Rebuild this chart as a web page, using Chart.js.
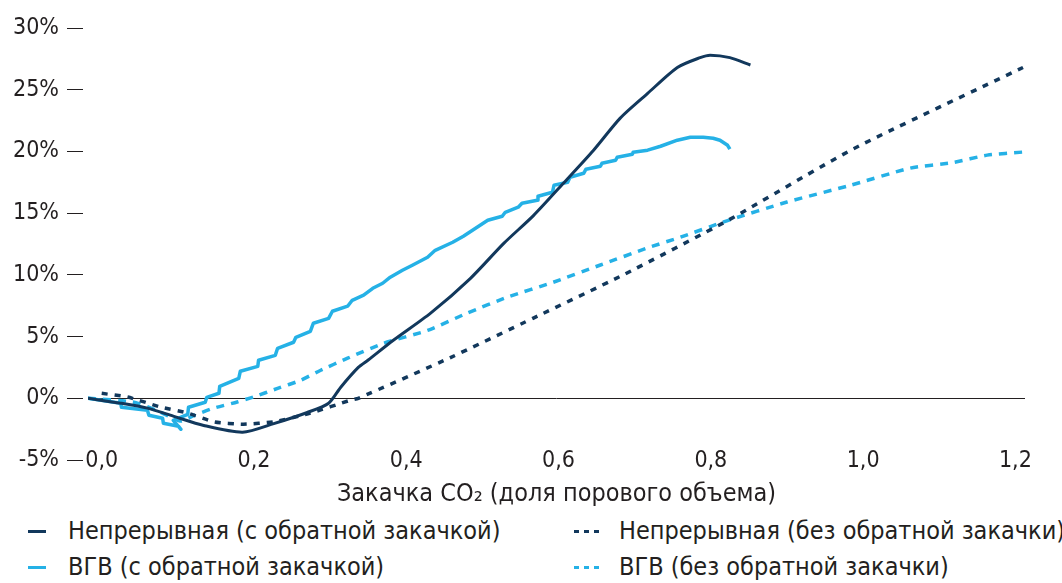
<!DOCTYPE html>
<html lang="ru">
<head>
<meta charset="utf-8">
<title>Закачка CO2</title>
<script src="https://cdn.jsdelivr.net/npm/chart.js@4.4.1/dist/chart.umd.min.js"></script>
<style>
  html, body { margin: 0; padding: 0; background: #fff; }
  body { width: 1062px; height: 583px; overflow: hidden; color: #231f20;
         font-family: 'DejaVu Sans Condensed', 'DejaVu Sans', sans-serif; }
  .wrap { position: relative; width: 1062px; height: 515px; }
  #legend { position: absolute; left: 0; top: 515px; width: 1062px; height: 68px; }
  #legend .mark { position: absolute; height: 3px; }
  #legend .txt { position: absolute; font-size: 25px; line-height: 28px; white-space: nowrap; }
</style>
</head>
<body>
<div class="wrap"><canvas id="chart"></canvas></div>
<div id="legend"></div>
<script>
/* ---------- data ---------- */
const xTicks = [0, 0.2, 0.4, 0.6, 0.8, 1.0, 1.2];

// Непрерывная (с обратной закачкой)
const contX = [-0.018, 0.025, 0.060, 0.094, 0.134, 0.185, 0.226, 0.270, 0.298, 0.314, 0.337, 0.350, 0.383, 0.432, 0.484, 0.528, 0.567, 0.606, 0.646, 0.681, 0.717, 0.756, 0.786, 0.799, 0.825, 0.852];
const contY = [0, -0.4, -0.8, -1.45, -2.2, -2.75, -2.05, -1.15, -0.4, 0.9, 2.5, 3.1, 4.7, 6.9, 9.7, 12.55, 14.8, 17.4, 20.1, 22.7, 24.7, 26.8, 27.6, 27.8, 27.6, 27.0];

// Непрерывная (без обратной закачки)
const contNoX = [0.0, 0.034, 0.077, 0.113, 0.147, 0.186, 0.226, 0.274, 0.327, 0.337, 0.458, 0.567, 0.685, 0.822, 0.987, 1.21];
const contNoY = [0.4, 0.1, -0.7, -1.2, -1.9, -2.1, -1.9, -1.2, -0.15, 0.0, 3.3, 6.5, 10.0, 14.4, 20.2, 26.8];

// ВГВ (с обратной закачкой) — ступеньки циклов
const wagX = [-0.018, 0.025, 0.026, 0.060, 0.062, 0.080, 0.081, 0.101, 0.104, 0.094, 0.113, 0.114, 0.136, 0.138, 0.154, 0.155, 0.180, 0.182, 0.205, 0.206, 0.228, 0.231, 0.252, 0.255, 0.274, 0.278, 0.298, 0.303, 0.323, 0.329, 0.344, 0.356, 0.369, 0.379, 0.395, 0.408, 0.428, 0.438, 0.461, 0.475, 0.487, 0.507, 0.526, 0.530, 0.547, 0.552, 0.572, 0.573, 0.592, 0.594, 0.612, 0.615, 0.633, 0.636, 0.655, 0.657, 0.675, 0.677, 0.697, 0.698, 0.717, 0.734, 0.756, 0.773, 0.790, 0.803, 0.812, 0.822, 0.825];
const wagY = [0, -0.41, -0.73, -0.97, -1.38, -1.62, -2.03, -2.27, -2.51, -1.78, -1.30, -0.73, -0.32, 0.08, 0.41, 0.97, 1.62, 2.19, 2.59, 3.08, 3.48, 4.05, 4.54, 4.94, 5.43, 6.08, 6.48, 7.05, 7.46, 7.94, 8.35, 8.91, 9.32, 9.81, 10.37, 10.78, 11.43, 11.99, 12.64, 13.13, 13.61, 14.42, 14.75, 15.07, 15.48, 15.80, 16.05, 16.37, 16.69, 17.26, 17.50, 17.91, 18.23, 18.56, 18.80, 19.04, 19.29, 19.53, 19.77, 19.94, 20.10, 20.42, 20.91, 21.15, 21.15, 21.07, 20.91, 20.50, 20.18];

// ВГВ (без обратной закачки)
const wagNoX = [-0.018, 0.041, 0.071, 0.091, 0.104, 0.121, 0.147, 0.178, 0.199, 0.231, 0.261, 0.287, 0.323, 0.370, 0.428, 0.480, 0.533, 0.593, 0.655, 0.720, 0.760, 0.822, 0.900, 0.983, 1.062, 1.118, 1.163, 1.21];
const wagNoY = [0, -0.3, -0.95, -1.55, -1.85, -1.4, -0.8, -0.3, 0.1, 0.8, 1.45, 2.25, 3.25, 4.45, 5.5, 6.9, 8.2, 9.4, 10.8, 12.25, 13.05, 14.4, 15.9, 17.25, 18.65, 19.1, 19.7, 19.95];

const seriesLabels = [
  'Непрерывная (с обратной закачкой)',
  'Непрерывная (без обратной закачки)',
  'ВГВ (с обратной закачкой)',
  'ВГВ (без обратной закачки)'
];

/* ---------- style ---------- */
const DARK = '#12385c';
const LIGHT = '#25b1e6';
const INK = '#231f20';
const FONT = "'DejaVu Sans Condensed', 'DejaVu Sans', sans-serif";

const pts = (xs, ys) => xs.map((x, i) => ({ x, y: ys[i] }));

const datasets = [
  { label: seriesLabels[0], data: pts(contX, contY), borderColor: DARK, borderWidth: 3, tension: 0.25 },
  { label: seriesLabels[1], data: pts(contNoX, contNoY), borderColor: DARK, borderWidth: 3.5, borderDash: [6, 7], tension: 0.2 },
  { label: seriesLabels[2], data: pts(wagX, wagY), borderColor: LIGHT, borderWidth: 3.5, tension: 0 },
  { label: seriesLabels[3], data: pts(wagNoX, wagNoY), borderColor: LIGHT, borderWidth: 3.5, borderDash: [8, 7], tension: 0.2 }
].map(d => Object.assign({ pointRadius: 0, fill: false, borderJoinStyle: 'round', borderCapStyle: 'butt' }, d));

/* HTML legend in two columns, built from the chart's datasets */
const htmlLegend = {
  id: 'htmlLegend',
  afterUpdate(chart) {
    const box = document.getElementById('legend');
    box.innerHTML = '';
    const colMark = [28, 574], colText = [68, 619], rowY = [16, 52];
    chart.data.datasets.forEach((ds, i) => {
      const col = i % 2, row = Math.floor(i / 2);
      const mark = document.createElement('span');
      mark.className = 'mark';
      const dotted = !!ds.borderDash;
      mark.style.left = colMark[col] + 'px';
      mark.style.top = (rowY[row] - 1.5) + 'px';
      mark.style.width = (dotted ? 28 : 18) + 'px';
      mark.style.background = dotted
        ? `repeating-linear-gradient(to right, ${ds.borderColor} 0 5px, transparent 5px 10px)`
        : ds.borderColor;
      const txt = document.createElement('span');
      txt.className = 'txt';
      txt.style.left = colText[col] + 'px';
      txt.style.top = (rowY[row] - 14) + 'px';
      txt.textContent = ds.label;
      box.append(mark, txt);
    });
  }
};

new Chart(document.getElementById('chart'), {
  type: 'line',
  data: { datasets },
  options: {
    responsive: true,
    maintainAspectRatio: false,
    animation: false,
    layout: { padding: { left: 0, right: 37, top: 28, bottom: 0 } },
    plugins: { legend: { display: false }, tooltip: { enabled: false } },
    scales: {
      x: {
        type: 'linear',
        min: -0.018,
        max: 1.2126,
        afterBuildTicks: s => { s.ticks = xTicks.map(v => ({ value: v })); },
        afterFit: s => { s.height = 55; },
        grid: { display: false },
        border: { display: false },
        ticks: {
          // mirror avoids clipping the labels to the axis box, so they can sit on the -5% row
          mirror: true, autoSkip: false, maxRotation: 0, padding: -15, color: INK,
          font: { family: FONT, size: 23 },
          callback: v => v.toFixed(1).replace('.', ',')
        },
        title: {
          display: true, text: 'Закачка CO₂ (доля порового объема)', color: INK,
          font: { family: FONT, size: 25 }, padding: { top: 0, bottom: 6 }
        }
      },
      y: {
        min: -5, max: 30,
        afterFit: s => { s.width = 88; },
        border: { display: false },
        grid: {
          color: c => (c.tick && c.tick.value === 0 ? INK : 'rgba(0,0,0,0)'),
          lineWidth: 1,
          drawTicks: true, tickLength: 21, tickColor: INK, tickWidth: 1,
          tickBorderDash: [16, 40]
        },
        ticks: {
          stepSize: 5, padding: 8, color: INK,
          font: { family: FONT, size: 23 },
          callback: v => v + '%'
        }
      }
    }
  },
  plugins: [htmlLegend]
});
</script>
</body>
</html>
